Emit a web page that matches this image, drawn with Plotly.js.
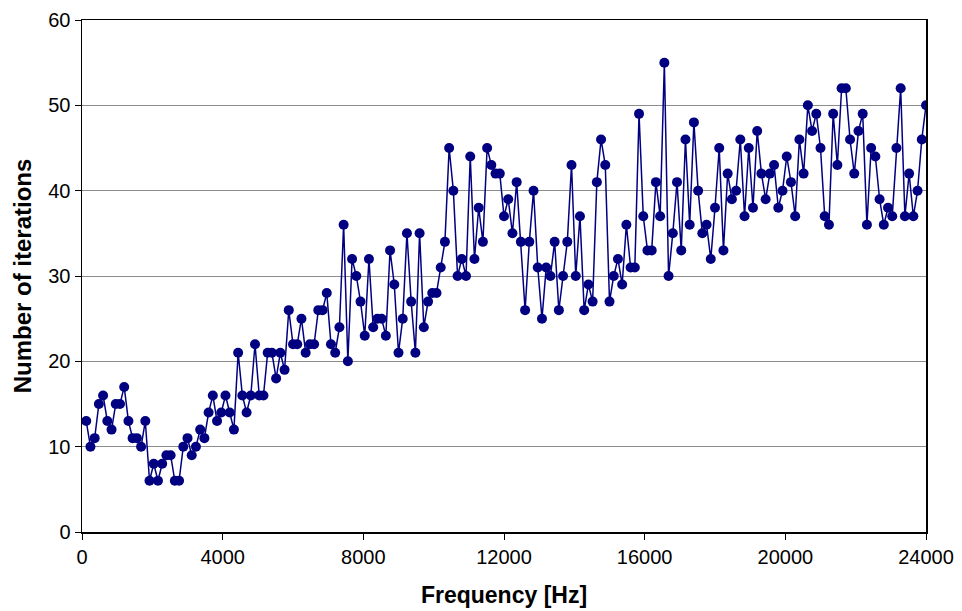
<!DOCTYPE html>
<html>
<head>
<meta charset="utf-8">
<script src="https://cdn.plot.ly/plotly-3.0.1.min.js"></script>
<style>
  html, body { margin: 0; padding: 0; background: #ffffff; }
  #chart { width: 962px; height: 611px; }
</style>
</head>
<body>
<div id="chart"></div>
<script>
// Frequency values [Hz]
const frequency = [
  120, 240, 360, 480, 600, 720, 840, 960, 1080, 1200,
  1320, 1440, 1560, 1680, 1800, 1920, 2040, 2160, 2280, 2400,
  2520, 2640, 2760, 2880, 3000, 3120, 3240, 3360, 3480, 3600,
  3720, 3840, 3960, 4080, 4200, 4320, 4440, 4560, 4680, 4800,
  4920, 5040, 5160, 5280, 5400, 5520, 5640, 5760, 5880, 6000,
  6120, 6240, 6360, 6480, 6600, 6720, 6840, 6960, 7080, 7200,
  7320, 7440, 7560, 7680, 7800, 7920, 8040, 8160, 8280, 8400,
  8520, 8640, 8760, 8880, 9000, 9120, 9240, 9360, 9480, 9600,
  9720, 9840, 9960, 10080, 10200, 10320, 10440, 10560, 10680, 10800,
  10920, 11040, 11160, 11280, 11400, 11520, 11640, 11760, 11880, 12000,
  12120, 12240, 12360, 12480, 12600, 12720, 12840, 12960, 13080, 13200,
  13320, 13440, 13560, 13680, 13800, 13920, 14040, 14160, 14280, 14400,
  14520, 14640, 14760, 14880, 15000, 15120, 15240, 15360, 15480, 15600,
  15720, 15840, 15960, 16080, 16200, 16320, 16440, 16560, 16680, 16800,
  16920, 17040, 17160, 17280, 17400, 17520, 17640, 17760, 17880, 18000,
  18120, 18240, 18360, 18480, 18600, 18720, 18840, 18960, 19080, 19200,
  19320, 19440, 19560, 19680, 19800, 19920, 20040, 20160, 20280, 20400,
  20520, 20640, 20760, 20880, 21000, 21120, 21240, 21360, 21480, 21600,
  21720, 21840, 21960, 22080, 22200, 22320, 22440, 22560, 22680, 22800,
  22920, 23040, 23160, 23280, 23400, 23520, 23640, 23760, 23880, 24000
];

// Number of iterations
const iterations = [
  13, 10, 11, 15, 16, 13, 12, 15, 15, 17,
  13, 11, 11, 10, 13, 6, 8, 6, 8, 9,
  9, 6, 6, 10, 11, 9, 10, 12, 11, 14,
  16, 13, 14, 16, 14, 12, 21, 16, 14, 16,
  22, 16, 16, 21, 21, 18, 21, 19, 26, 22,
  22, 25, 21, 22, 22, 26, 26, 28, 22, 21,
  24, 36, 20, 32, 30, 27, 23, 32, 24, 25,
  25, 23, 33, 29, 21, 25, 35, 27, 21, 35,
  24, 27, 28, 28, 31, 34, 45, 40, 30, 32,
  30, 44, 32, 38, 34, 45, 43, 42, 42, 37,
  39, 35, 41, 34, 26, 34, 40, 31, 25, 31,
  30, 34, 26, 30, 34, 43, 30, 37, 26, 29,
  27, 41, 46, 43, 27, 30, 32, 29, 36, 31,
  31, 49, 37, 33, 33, 41, 37, 55, 30, 35,
  41, 33, 46, 36, 48, 40, 35, 36, 32, 38,
  45, 33, 42, 39, 40, 46, 37, 45, 38, 47,
  42, 39, 42, 43, 38, 40, 44, 41, 37, 46,
  42, 50, 47, 49, 45, 37, 36, 49, 43, 52,
  52, 46, 42, 47, 49, 36, 45, 44, 39, 36,
  38, 37, 45, 52, 37, 42, 37, 40, 46, 50
];

const xTicks = [0, 4000, 8000, 12000, 16000, 20000, 24000];
const yTicks = [0, 10, 20, 30, 40, 50, 60];

const navy = '#000080';
const fontFamily = '"Liberation Sans", Arial, sans-serif';

const trace = {
  x: frequency,
  y: iterations,
  type: 'scatter',
  mode: 'lines+markers',
  line: { color: navy, width: 1.5 },
  marker: { color: navy, size: 10, line: { width: 0 } },
  hoverinfo: 'x+y'
};

const layout = {
  width: 962,
  height: 611,
  margin: { l: 82, r: 36, t: 20, b: 79, pad: 0 },
  paper_bgcolor: '#ffffff',
  plot_bgcolor: '#ffffff',
  showlegend: false,
  font: { family: fontFamily, size: 20, color: '#000000' },
  xaxis: {
    range: [0, 24000],
    tickmode: 'array',
    tickvals: xTicks,
    ticktext: xTicks.map(String),
    ticks: 'outside',
    ticklen: 6,
    tickwidth: 1,
    tickcolor: '#000000',
    showgrid: false,
    zeroline: false,
    showline: true,
    linecolor: '#000000',
    linewidth: 1.5,
    mirror: true,
    tickfont: { family: fontFamily, size: 20, color: '#000000' },
    title: {
      text: 'Frequency [Hz]',
      font: { family: fontFamily, size: 23, color: '#000000', weight: 'bold' },
      standoff: 20
    }
  },
  yaxis: {
    range: [0, 60],
    tickmode: 'array',
    tickvals: yTicks,
    ticktext: yTicks.map(String),
    ticks: 'outside',
    ticklen: 6,
    tickwidth: 1,
    tickcolor: '#000000',
    showgrid: true,
    gridcolor: '#8c8c8c',
    gridwidth: 1,
    zeroline: false,
    showline: true,
    linecolor: '#000000',
    linewidth: 1.5,
    mirror: true,
    tickfont: { family: fontFamily, size: 20, color: '#000000' },
    title: {
      text: 'Number of iterations',
      font: { family: fontFamily, size: 24, color: '#000000', weight: 'bold' },
      standoff: 10
    }
  }
};

Plotly.newPlot('chart', [trace], layout, { displayModeBar: false, staticPlot: true });
</script>
</body>
</html>
